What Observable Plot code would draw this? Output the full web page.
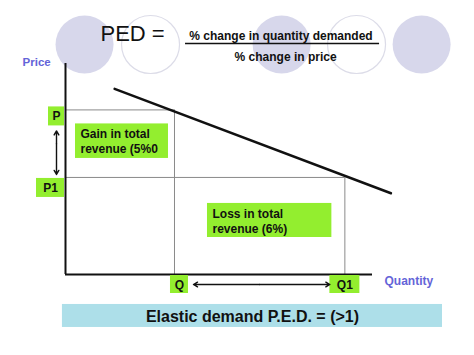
<!DOCTYPE html>
<html><head><meta charset="utf-8">
<script src="https://cdn.jsdelivr.net/npm/d3@7"></script>
<script src="https://cdn.jsdelivr.net/npm/@observablehq/plot@0.6"></script>
<style>body{margin:0;background:#fff;} #chart svg{display:block;}</style>
</head><body><div id="chart"></div>
<script>
// ---- data ----
const priceNames = ["P", "P1"];
const priceValues = [78, 46];
const quantityNames = ["Q", "Q1"];
const quantityValues = [35.5, 91];
const demandQuantity = [16, 106];
const demandPrice = [88, 38.5];
const axisNames = ["Price", "Quantity"];
const formulaTitle = "PED =";
const formulaNumerator = "% change in quantity demanded";
const formulaDenominator = "% change in price";
const gainText = "Gain in total\nrevenue (5%0";
const lossText = "Loss in total\nrevenue (6%)";
const bannerText = "Elastic demand P.E.D. = (>1)";

// ---- layout (slide decoration, in quantity/price units) ----
const circleX = [6.2, 27.7, 70.4, 94.8, 116.0];
const circleFilled = [true, false, true, false, true];
const circleY = 109;

const GREEN = "#93ee2f";
const BLUE = "#6464d8";
const FONT = "'Liberation Sans', Arial, sans-serif";

const [P, P1] = priceValues;
const [Q, Q1] = quantityValues;
const demand = demandQuantity.map((q, i) => ({q, p: demandPrice[i]}));
const circles = circleX.map((x, i) => ({x, filled: circleFilled[i]}));

const tagStyle = {P: {w: 16, off: -3}, P1: {w: 28, off: 1}, Q: {w: 18, off: 5}, Q1: {w: 30, off: 0}};
const H = 19;

const marks = [];
// decorative circles
marks.push(Plot.dot(circles.filter(d => d.filled), {x: "x", y: () => circleY, r: 29, fill: "#d7d7eb", stroke: "none"}));
marks.push(Plot.dot(circles.filter(d => !d.filled), {x: "x", y: () => circleY, r: 29, fill: "white", stroke: "#dcdce8", strokeWidth: 1.2}));
// formula
marks.push(Plot.text([formulaTitle], {x: () => 11.4, y: () => 114, text: d => d, textAnchor: "start", fontSize: 22, fill: "#111"}));
marks.push(Plot.text([formulaNumerator], {x: () => 70.2, y: () => 112.9, text: d => d, fontSize: 12, fontWeight: "bold", fill: "#111"}));
marks.push(Plot.ruleY([109.5], {x1: () => 39.1, x2: () => 102.3, stroke: "#111", strokeWidth: 1.5}));
marks.push(Plot.text([formulaDenominator], {x: () => 71.7, y: () => 102.8, text: d => d, fontSize: 12, fontWeight: "bold", fill: "#111"}));

// guide lines
marks.push(Plot.ruleY([{y: P, x2: Q}, {y: P1, x2: Q1}], {y: "y", x1: () => 0, x2: "x2", stroke: "#8a8a8a", strokeWidth: 1}));
marks.push(Plot.ruleX([{x: Q, y2: P}, {x: Q1, y2: P1}], {x: "x", y1: () => 0, y2: "y2", stroke: "#8a8a8a", strokeWidth: 1}));

// revenue boxes
marks.push(Plot.rect([{x1: 0, x2: Q, y1: P1, y2: P}], {x1: "x1", x2: "x2", y1: "y1", y2: "y2", fill: GREEN, insetLeft: 10, insetRight: 6, insetTop: 14, insetBottom: 19}));
marks.push(Plot.text([{x: 0, y: (P + P1) / 2, t: gainText}], {x: "x", y: "y", text: "t", dx: 15, dy: -3, textAnchor: "start", lineAnchor: "middle", lineHeight: 1.25, fontSize: 12, fontWeight: "bold", fill: "#111"}));
marks.push(Plot.rect([{x1: Q, x2: Q1, y1: 0, y2: P1}], {x1: "x1", x2: "x2", y1: "y1", y2: "y2", fill: GREEN, insetLeft: 33, insetRight: 13, insetTop: 26, insetBottom: 37}));
marks.push(Plot.text([{x: Q, y: P1 / 2, t: lossText}], {x: "x", y: "y", text: "t", dx: 38, dy: -5, textAnchor: "start", lineAnchor: "middle", lineHeight: 1.2, fontSize: 12, fontWeight: "bold", fill: "#111"}));

// axes
marks.push(Plot.ruleX([0], {y1: () => 0, y2: () => 100, stroke: "#111", strokeWidth: 2}));
marks.push(Plot.ruleY([0], {x1: () => 0, x2: () => 100, stroke: "#111", strokeWidth: 2}));

// demand curve
marks.push(Plot.line(demand, {x: "q", y: "p", stroke: "#111", strokeWidth: 2.5}));

// price tags
priceNames.forEach((name, i) => {
  const s = tagStyle[name];
  const d = [{a: 0, v: priceValues[i], name}];
  marks.push(Plot.rect(d, {x1: "a", x2: "a", y1: "v", y2: "v", fill: GREEN, insetLeft: -(s.w + 1), insetRight: 1, insetTop: s.off, insetBottom: -(s.off + H)}));
  marks.push(Plot.text(d, {x: "a", y: "v", text: "name", dx: -1 - s.w / 2, dy: s.off + H / 2, fontSize: 12, fontWeight: "bold", fill: "#111"}));
});
// quantity tags
quantityNames.forEach((name, i) => {
  const s = tagStyle[name];
  const d = [{a: 0, v: quantityValues[i], name}];
  marks.push(Plot.rect(d, {x1: "v", x2: "v", y1: "a", y2: "a", fill: GREEN, insetLeft: s.off - s.w / 2, insetRight: -s.off - s.w / 2, insetTop: 1, insetBottom: -H}));
  marks.push(Plot.text(d, {x: "v", y: "a", text: "name", dx: s.off, dy: 1 + H / 2, fontSize: 12, fontWeight: "bold", fill: "#111"}));
});

// double arrows
const pm = (P + P1) / 2, qm = (Q + Q1) / 2;
const arrowOpts = {stroke: "#111", strokeWidth: 1.4, headLength: 5, bend: 0};
marks.push(Plot.arrow([{x: 0, y1: pm, y2: P}], {x1: "x", x2: "x", y1: "y1", y2: "y2", dx: -9, insetEnd: 21, ...arrowOpts}));
marks.push(Plot.arrow([{x: 0, y1: pm, y2: P1}], {x1: "x", x2: "x", y1: "y1", y2: "y2", dx: -9, insetEnd: 3, ...arrowOpts}));
marks.push(Plot.arrow([{y: 0, x1: qm, x2: Q}], {y1: "y", y2: "y", x1: "x1", x2: "x2", dy: 10, insetEnd: 19, ...arrowOpts}));
marks.push(Plot.arrow([{y: 0, x1: qm, x2: Q1}], {y1: "y", y2: "y", x1: "x1", x2: "x2", dy: 10, insetEnd: 15, ...arrowOpts}));

// axis names
marks.push(Plot.text([axisNames[0]], {x: () => -9.4, y: () => 100.7, text: d => d, fontSize: 11.5, fontWeight: "bold", fill: BLUE}));
marks.push(Plot.text([axisNames[1]], {x: () => 103.9, y: () => -3.3, text: d => d, textAnchor: "start", fontSize: 12, fontWeight: "bold", fill: BLUE}));

// banner
marks.push(Plot.rect([{x1: -1, x2: 122.8, y1: -14.2, y2: -25.1}], {x1: "x1", x2: "x2", y1: "y1", y2: "y2", fill: "#addfe9"}));
marks.push(Plot.text([bannerText], {x: () => 60.9, y: () => -19.9, text: d => d, fontSize: 16, fontWeight: "bold", fill: "#111"}));

const chart = Plot.plot({
  width: 474, height: 355,
  marginTop: 63, marginRight: 102, marginBottom: 81, marginLeft: 65,
  x: {domain: [0, 100], axis: null},
  y: {domain: [0, 100], axis: null},
  style: {fontFamily: FONT, background: "white", overflow: "visible"},
  marks
});
document.getElementById("chart").append(chart);
</script>
</body></html>
